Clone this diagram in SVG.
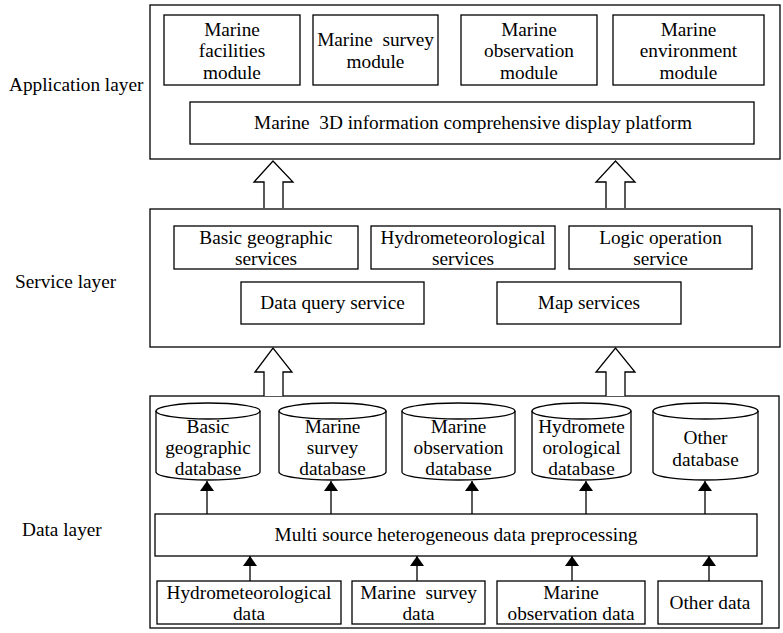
<svg xmlns="http://www.w3.org/2000/svg" width="783" height="633" viewBox="0 0 783 633">
<style>
  .box{fill:#fff;stroke:#000;stroke-width:1.3}
  .t{font-family:"Liberation Serif","Times New Roman",serif;font-size:19.3px;fill:#000;text-anchor:middle}
  .lbl{font-family:"Liberation Serif","Times New Roman",serif;font-size:19.3px;fill:#000}
  .big{fill:#fff;stroke:#000;stroke-width:1.3}
  .arr{stroke:#000;stroke-width:1.3;fill:none}
</style>
<defs>
  <marker id="ah" viewBox="0 0 10 14" refX="10" refY="7" markerWidth="10" markerHeight="14" markerUnits="userSpaceOnUse" orient="auto">
    <path d="M0,0 L10,7 L0,14 Z" fill="#000"/>
  </marker>
</defs>
<rect width="783" height="633" fill="#fff"/>

<g id="application-layer">
  <rect class="big" x="150" y="5" width="630" height="154"/>
  <text class="lbl" x="9" y="91">Application layer</text>
</g>
<g id="app-facilities">
  <rect class="box" x="164" y="15" width="136" height="70"/>
  <text class="t" x="232" y="36">Marine</text>
  <text class="t" x="232" y="57">facilities</text>
  <text class="t" x="232" y="79">module</text>
</g>
<g id="app-survey">
  <rect class="box" x="313" y="15" width="125" height="70"/>
  <text class="t" x="375.5" y="46" xml:space="preserve">Marine  survey</text>
  <text class="t" x="375.5" y="68">module</text>
</g>
<g id="app-observation">
  <rect class="box" x="461" y="15" width="136" height="70"/>
  <text class="t" x="529" y="36">Marine</text>
  <text class="t" x="529" y="57">observation</text>
  <text class="t" x="529" y="79">module</text>
</g>
<g id="app-environment">
  <rect class="box" x="613" y="15" width="151" height="70"/>
  <text class="t" x="688.5" y="36">Marine</text>
  <text class="t" x="688.5" y="57">environment</text>
  <text class="t" x="688.5" y="79">module</text>
</g>
<g id="app-platform">
  <rect class="box" x="190" y="102" width="564" height="42"/>
  <text class="t" x="473" y="129" xml:space="preserve">Marine  3D information comprehensive display platform</text>
</g>

<g id="service-layer">
  <rect class="big" x="150" y="209" width="630" height="138"/>
  <text class="lbl" x="15" y="288">Service layer</text>
</g>
<g id="svc-basic">
  <rect class="box" x="174" y="226" width="184" height="43"/>
  <text class="t" x="266" y="244">Basic geographic</text>
  <text class="t" x="266" y="265">services</text>
</g>
<g id="svc-hydro">
  <rect class="box" x="371" y="226" width="184" height="43"/>
  <text class="t" x="463" y="244">Hydrometeorological</text>
  <text class="t" x="463" y="265">services</text>
</g>
<g id="svc-logic">
  <rect class="box" x="569" y="226" width="183" height="43"/>
  <text class="t" x="660.5" y="244">Logic operation</text>
  <text class="t" x="660.5" y="265">service</text>
</g>
<g id="svc-query">
  <rect class="box" x="241" y="282" width="183" height="42"/>
  <text class="t" x="332.5" y="309">Data query service</text>
</g>
<g id="svc-map">
  <rect class="box" x="497" y="282" width="184" height="42"/>
  <text class="t" x="589" y="309">Map services</text>
</g>

<g id="data-layer">
  <rect class="big" x="150" y="396" width="629" height="232"/>
  <text class="lbl" x="22" y="536">Data layer</text>
</g>
<g id="db-basic">
  <path class="box" d="M156,411 A52,8 0 0 1 260,411 V472 A52,8 0 0 1 156,472 Z"/>
  <path class="arr" d="M156,411 A52,8 0 0 0 260,411"/>
  <text class="t" x="208" y="433">Basic</text>
  <text class="t" x="208" y="454">geographic</text>
  <text class="t" x="208" y="475">database</text>
</g>
<g id="db-survey">
  <path class="box" d="M279,411 A53.5,8 0 0 1 386,411 V472 A53.5,8 0 0 1 279,472 Z"/>
  <path class="arr" d="M279,411 A53.5,8 0 0 0 386,411"/>
  <text class="t" x="332.5" y="433">Marine</text>
  <text class="t" x="332.5" y="454">survey</text>
  <text class="t" x="332.5" y="475">database</text>
</g>
<g id="db-observation">
  <path class="box" d="M402,411 A56.5,8 0 0 1 515,411 V472 A56.5,8 0 0 1 402,472 Z"/>
  <path class="arr" d="M402,411 A56.5,8 0 0 0 515,411"/>
  <text class="t" x="458.5" y="433">Marine</text>
  <text class="t" x="458.5" y="454">observation</text>
  <text class="t" x="458.5" y="475">database</text>
</g>
<g id="db-hydro">
  <path class="box" d="M532,411 A49.5,8 0 0 1 631,411 V472 A49.5,8 0 0 1 532,472 Z"/>
  <path class="arr" d="M532,411 A49.5,8 0 0 0 631,411"/>
  <text class="t" x="581.5" y="433">Hydromete</text>
  <text class="t" x="581.5" y="454">orological</text>
  <text class="t" x="581.5" y="475">database</text>
</g>
<g id="db-other">
  <path class="box" d="M653,411 A52.5,8 0 0 1 758,411 V472 A52.5,8 0 0 1 653,472 Z"/>
  <path class="arr" d="M653,411 A52.5,8 0 0 0 758,411"/>
  <text class="t" x="705.5" y="444">Other</text>
  <text class="t" x="705.5" y="466">database</text>
</g>
<g id="preprocessing">
  <rect class="box" x="155" y="514" width="602" height="42"/>
  <text class="t" x="456" y="541">Multi source heterogeneous data preprocessing</text>
</g>
<g id="src-hydro">
  <rect class="box" x="157" y="581" width="184" height="43"/>
  <text class="t" x="249" y="599">Hydrometeorological</text>
  <text class="t" x="249" y="620">data</text>
</g>
<g id="src-survey">
  <rect class="box" x="352" y="581" width="133" height="43"/>
  <text class="t" x="418.5" y="599" xml:space="preserve">Marine  survey</text>
  <text class="t" x="418.5" y="620">data</text>
</g>
<g id="src-observation">
  <rect class="box" x="497" y="581" width="148" height="43"/>
  <text class="t" x="571" y="599">Marine</text>
  <text class="t" x="571" y="620">observation data</text>
</g>
<g id="src-other">
  <rect class="box" x="658" y="581" width="104" height="43"/>
  <text class="t" x="710" y="609">Other data</text>
</g>

<g id="connectors">
  <path class="box" d="M264,208 V182 H254 L273,161 L293,182 H283 V208"/>
  <path class="box" d="M606,208 V182 H596 L615.5,161 L635,182 H625 V208"/>
  <path class="box" d="M264,396 V372 H255 L273,348 L292,372 H283 V396"/>
  <path class="box" d="M606,396 V372 H596 L615.5,348 L635,372 H625 V396"/>
  <line class="arr" x1="207" y1="514" x2="207" y2="481" marker-end="url(#ah)"/>
  <line class="arr" x1="331" y1="514" x2="331" y2="481" marker-end="url(#ah)"/>
  <line class="arr" x1="472" y1="514" x2="472" y2="481" marker-end="url(#ah)"/>
  <line class="arr" x1="586" y1="514" x2="586" y2="481" marker-end="url(#ah)"/>
  <line class="arr" x1="705" y1="514" x2="705" y2="481" marker-end="url(#ah)"/>
  <line class="arr" x1="250" y1="581" x2="250" y2="556" marker-end="url(#ah)"/>
  <line class="arr" x1="417" y1="581" x2="417" y2="556" marker-end="url(#ah)"/>
  <line class="arr" x1="572" y1="581" x2="572" y2="556" marker-end="url(#ah)"/>
  <line class="arr" x1="709" y1="581" x2="709" y2="556" marker-end="url(#ah)"/>
</g>
</svg>
